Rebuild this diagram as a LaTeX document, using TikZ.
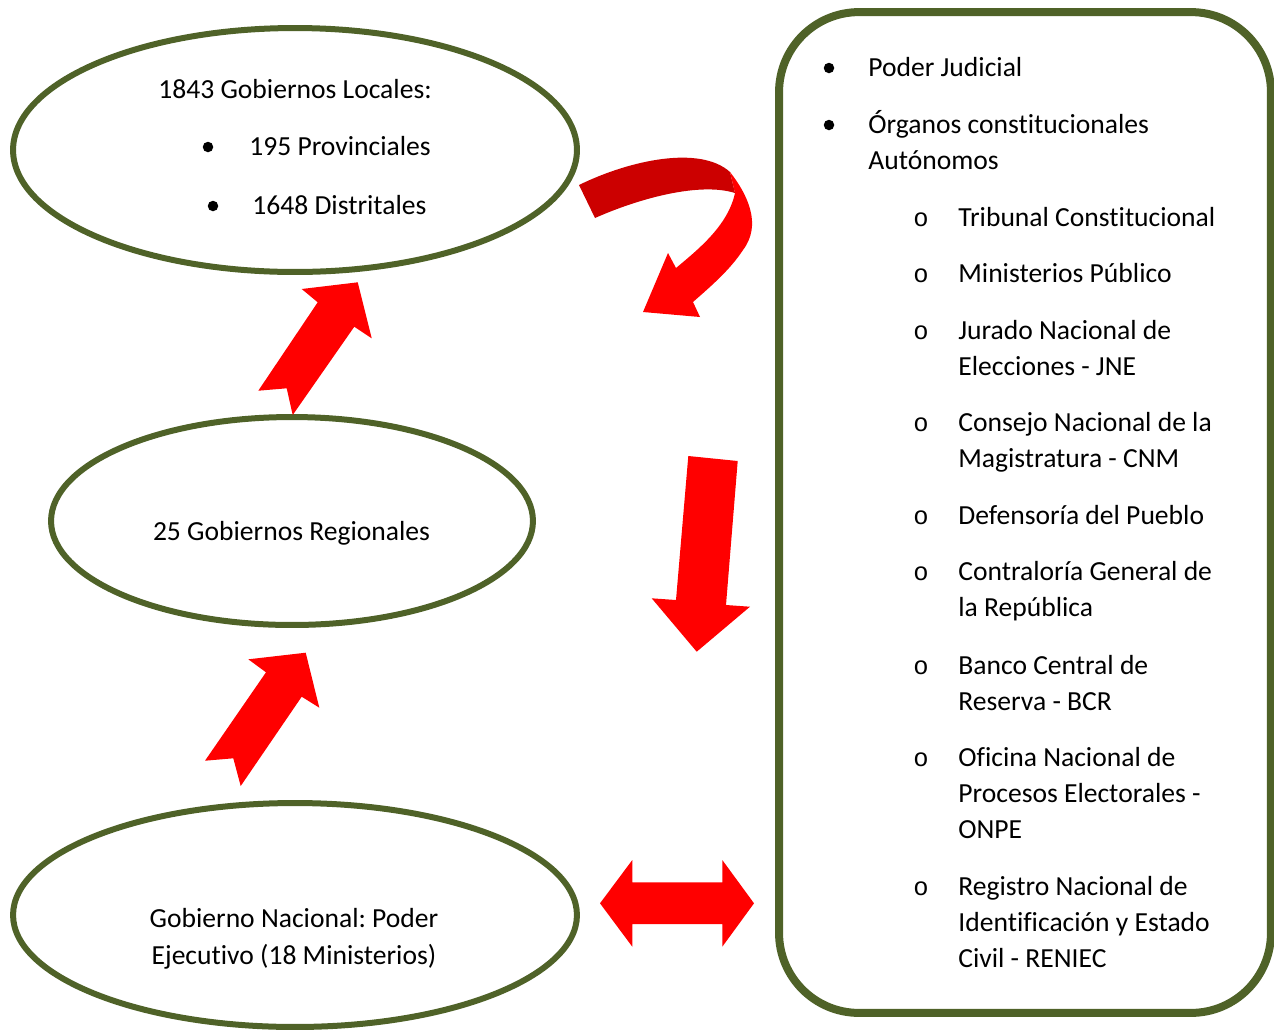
\documentclass[tikz,border=0pt]{standalone}
\usepackage{fontspec}
\setmainfont{Carlito}[Ligatures=NoCommon]
\newfontfamily\subfont{Liberation Mono}
\usetikzlibrary{shapes.geometric}
\frenchspacing

\definecolor{olivedark}{HTML}{4F6228}
\definecolor{arrowred}{HTML}{FF0000}
\definecolor{foldred}{HTML}{CC0000}

\begin{document}
\begin{tikzpicture}[x=0.02cm,y=-0.02cm,
	gob/.style={ellipse,draw=olivedark,line width=0.12cm,inner sep=0pt},
	panel/.style={rectangle,draw=olivedark,line width=0.16cm,rounded corners=1.6cm,inner sep=0pt},
	txt/.style={inner sep=0pt,font=\fontsize{15.7}{20.6}\selectfont},
	item/.style={txt,anchor=base west,text width=8cm,align=flush left},
	dot/.style={circle,fill=black,inner sep=0pt,minimum size=0.21cm},
	ring/.style={txt,anchor=base,font=\subfont\fontsize{14.5}{20}\selectfont}]
	\useasboundingbox (0,0) rectangle (1274,1032);

	%ellipses and box
	\node[gob,minimum width=11.28cm,minimum height=4.88cm] (locales) at (295,150) {};
	\node[gob,minimum width=9.64cm,minimum height=4.16cm] (regionales) at (292,521) {};
	\node[gob,minimum width=11.28cm,minimum height=4.48cm] (nacional) at (295,915) {};
	\node[panel,minimum width=9.84cm,minimum height=20.02cm] (organos) at (1025,512.5) {};

	%left texts
	\node[txt,anchor=base west] (loc) at (158,98) {1843 Gobiernos Locales:};
	\node[dot] (d1) at (208,147) {};
	\node[txt,anchor=base west] (prov) at (249,155) {195 Provinciales};
	\node[dot] (d2) at (213,206) {};
	\node[txt,anchor=base west] (dist) at (252,214) {1648 Distritales};
	\node[txt,anchor=base] (reg) at (291.5,540) {25 Gobiernos Regionales};
	\node[txt,anchor=base,align=center] (nac) at (294,964) {Gobierno Nacional: Poder\\Ejecutivo (18 Ministerios)};

	%right list
	\node[dot] (b1) at (829,68) {};
	\node[item] (pj) at (868,76) {Poder Judicial};
	\node[dot] (b2) at (829,125) {};
	\node[item] (oca) at (868,133) {Órganos constitucionales\\Autónomos};
	\foreach \y/\t [count=\i] in {217/Tribunal Constitucional,
		273/Ministerios Público,
		330/{Jurado Nacional de\\Elecciones - JNE},
		422/{Consejo Nacional de la\\Magistratura - CNM},
		515/Defensoría del Pueblo,
		571/{Contraloría General de\\la República},
		665/{Banco Central de\\Reserva - BCR},
		757/{Oficina Nacional de\\Procesos Electorales -\\ONPE},
		886/{Registro Nacional de\\Identificación y Estado\\Civil - RENIEC}}
	{
		\node[ring] (o\i) at (921,\y+9) {o};
		\node[item] (sub\i) at (958,\y+9) {\t};
	}

	%block arrows
	\fill[arrowred] (357.7,282.3) -- (371.7,338.3) -- (354.3,326.7) -- (292.7,415)
		-- (286.7,388.3) -- (258.3,390.7) -- (317.7,302.3) -- (301.7,289) -- cycle;
	\fill[arrowred] (305.7,652.7) -- (319.3,707.7) -- (301.7,696.7) -- (240.7,786)
		-- (233.3,758.3) -- (205,760.7) -- (266,672.3) -- (248.3,659.3) -- cycle;
	\fill[arrowred] (688.3,456) -- (737.7,461) -- (726,605) -- (750,606.7)
		-- (696.7,651.7) -- (651.7,598.3) -- (676,600) -- cycle;
	\fill[arrowred] (600,903.3) -- (632.3,860) -- (632.3,882.3) -- (722.3,882.3)
		-- (722.3,860) -- (754,903.3) -- (722.3,946.7) -- (722.3,924)
		-- (632.3,924) -- (632.3,946.7) -- cycle;

	%curved arrow
	\fill[foldred] (579,185) .. controls (630,160) and (700,145) .. (730,172)
		-- (735,193) .. controls (700,182) and (640,198) .. (595,218) -- cycle;
	\fill[arrowred] (730,172) .. controls (748,195) and (762,225) .. (743,250)
		.. controls (730,270) and (710,287) .. (693,302)
		-- (700,317) -- (643,312) -- (668,253) -- (676,268)
		.. controls (700,248) and (728,225) .. (735,193) -- cycle;
\end{tikzpicture}
\end{document}
